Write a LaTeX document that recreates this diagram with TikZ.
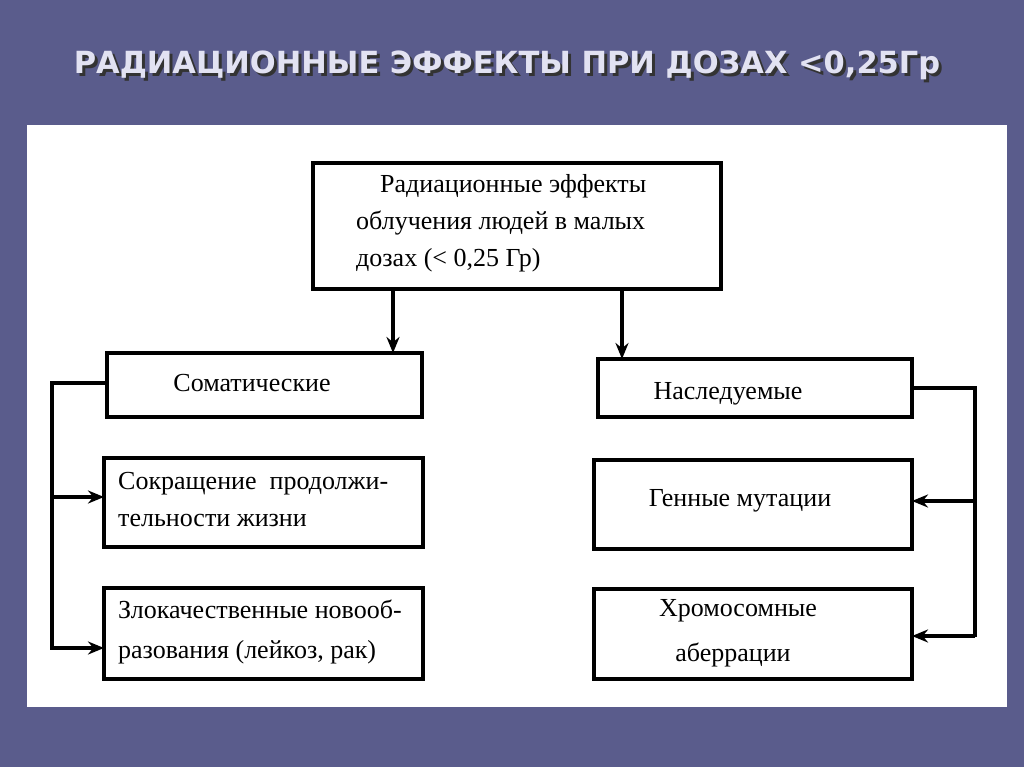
\documentclass[tikz,border=0pt]{standalone}
\usepackage{fontspec}
\setmainfont{Liberation Serif}
\newfontfamily\titlefont{DejaVu Sans}
\usetikzlibrary{arrows.meta}
\definecolor{bg}{HTML}{5A5C8C}
\definecolor{ttl}{HTML}{E2E2F2}
\begin{document}
\begin{tikzpicture}[x=1pt,y=-1pt,
 bx/.style={draw,line width=3.6pt},
 ln/.style={line width=3.2pt},
 ar/.style={line width=3.2pt,-{Stealth[length=16pt,width=13pt]}},
 tx/.style={font=\fontsize{26}{30}\selectfont,inner sep=0pt}]
\useasboundingbox (0,0) rectangle (1024,767);
\fill[bg] (0,0) rectangle (1024,767);
\node[font=\titlefont\bfseries\fontsize{30.5}{36}\selectfont,text=black!80] at (510,68) {РАДИАЦИОННЫЕ ЭФФЕКТЫ ПРИ ДОЗАХ <0,25Гр};
\node[font=\titlefont\bfseries\fontsize{30.5}{36}\selectfont,text=ttl] (title) at (507,65) {РАДИАЦИОННЫЕ ЭФФЕКТЫ ПРИ ДОЗАХ <0,25Гр};
\fill[white] (27,125) rectangle (1007,707);
\draw[bx] (313,163) rectangle (721,289);
\node[tx,anchor=west] at (380,186) {Радиационные эффекты};
\node[tx,anchor=west] at (356,223) {облучения людей в малых};
\node[tx,anchor=west] at (356,260) {дозах (< 0,25 Гр)};
\draw[bx] (107,353) rectangle (422,417);
\node[tx] (som) at (252,383) {Соматические};
\draw[bx] (598,359) rectangle (912,417);
\node[tx] (nas) at (728,394) {Наследуемые};
\draw[bx] (104,458) rectangle (423,547);
\node[tx,anchor=west] at (118,484) {Сокращение \ продолжи-};
\node[tx,anchor=west] at (118,520) {тельности жизни};
\draw[bx] (104,588) rectangle (423,679);
\node[tx,anchor=west] at (118,609) {Злокачественные новооб-};
\node[tx,anchor=west] at (118,652) {разования (лейкоз, рак)};
\draw[bx] (594,460) rectangle (912,549);
\node[tx] (gen) at (740,501) {Генные мутации};
\draw[bx] (594,589) rectangle (912,679);
\node[tx] at (738,611) {Хромосомные};
\node[tx] at (733,655) {аберрации};
\coordinate (a1) at (393,289); \coordinate (a2) at (622,289);
\draw[ar] (a1) -- (393,353);
\draw[ar] (a2) -- (622,359);
\draw[ln] (107,383) -- (52,383) -- (52,650);
\draw[ar] (52,497) -- (104,497);
\draw[ar] (52,648) -- (104,648);
\draw[ln] (912,388) -- (975,388) -- (975,637);
\draw[ar] (975,501) -- (912,501);
\draw[ar] (975,636) -- (912,636);
\end{tikzpicture}
\end{document}
